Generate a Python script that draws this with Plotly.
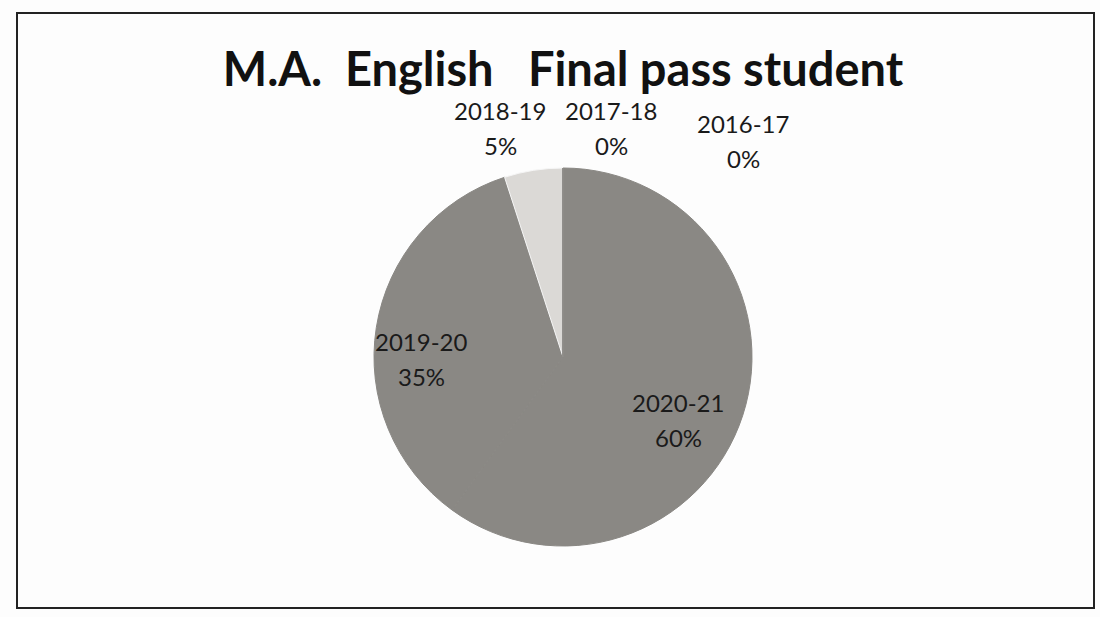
import plotly.graph_objects as go

title = "M.A.  English   Final pass student"
years = ["2020-21", "2019-20", "2018-19", "2017-18", "2016-17"]
share = [60, 35, 5, 0, 0]
colors = ["#8a8884", "#8a8884", "#dbd9d6", "#8a8884", "#8a8884"]
edge_colors = ["#8a8884", "#8a8884", "#f6f6f6", "#8a8884", "#8a8884"]

W, H = 1100, 617
cx, cy, r = 563, 357, 189

fig = go.Figure()
fig.add_trace(go.Pie(
    labels=years, values=share, sort=False, direction="clockwise", rotation=0,
    marker=dict(colors=colors, line=dict(color=edge_colors, width=1)),
    textinfo="none",
    showlegend=False, hoverinfo="label+percent",
    domain=dict(x=[(cx - r) / W, (cx + r) / W], y=[(H - cy - r) / H, (H - cy + r) / H]),
))

# data label positions (pixel centres of the year line; percent line sits 35px below)
pos = {"2020-21": (678, 402), "2019-20": (422, 341),
       "2018-19": (500, 110), "2017-18": (611, 110), "2016-17": (743, 123)}
lab_font = dict(family="Lato", size=24, color="#1a1a1a")
for y, v in zip(years, share):
    px, py = pos[y]
    for txt, yy in ((y, py), (f"{v}%", py + 35)):
        fig.add_annotation(x=px / W, y=1 - yy / H, xref="paper", yref="paper",
                           text=txt, showarrow=False, yanchor="middle", xanchor="center",
                           font=lab_font)

fig.update_layout(
    width=W, height=H, margin=dict(l=0, r=0, t=0, b=0),
    paper_bgcolor="#fdfdfd", plot_bgcolor="#fdfdfd",
    title=dict(text=f"<b>{title}</b>", x=563 / W, xanchor="center", y=1 - 70 / H, yanchor="middle",
               font=dict(family="Lato", size=47, color="#111111")),
    shapes=[dict(type="rect", xref="paper", yref="paper", x0=17 / W, x1=1094 / W,
                 y0=1 - 608 / H, y1=1 - 13 / H, line=dict(color="#222222", width=2))],
)
fig.write_html("out.html", config={"displayModeBar": False},
               post_script="document.body.style.margin='0';document.body.style.background='#fdfdfd';")
